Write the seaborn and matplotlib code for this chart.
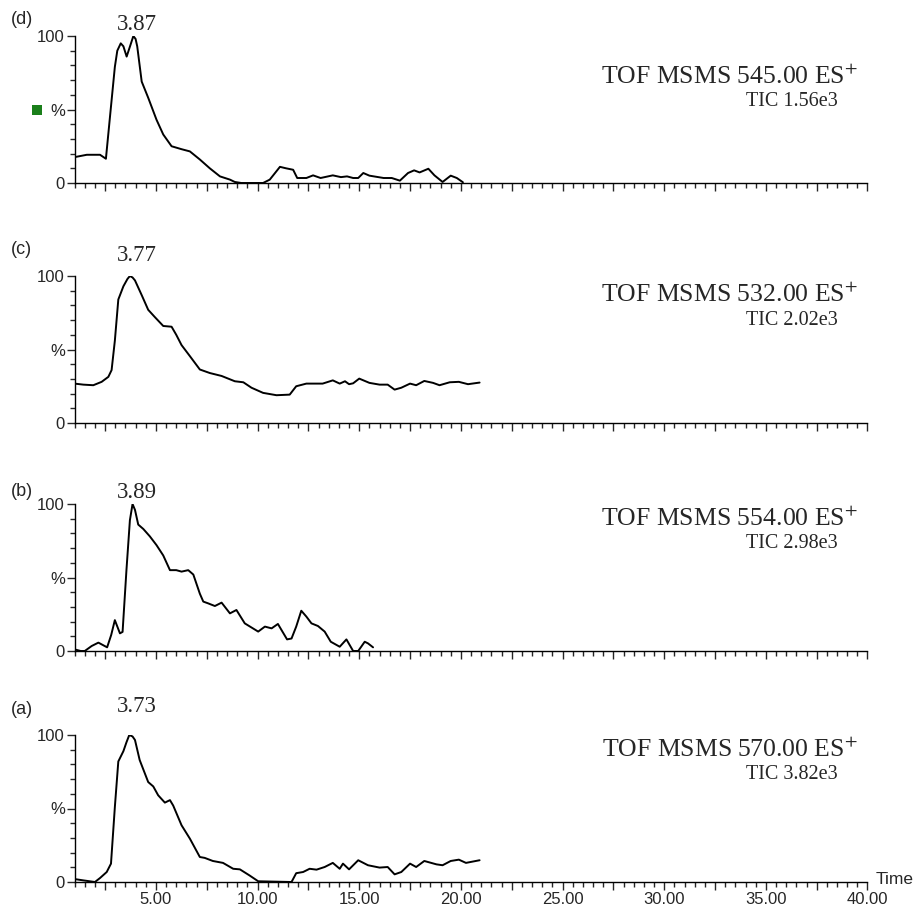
import matplotlib
matplotlib.use("Agg")
import matplotlib.pyplot as plt
import seaborn as sns
import pandas as pd
from matplotlib.ticker import MultipleLocator, FixedLocator, FuncFormatter
from matplotlib.patches import Rectangle

# ---------------- data ----------------
panel_labels = ["(d)", "(c)", "(b)", "(a)"]
peak_labels = ["3.87", "3.77", "3.89", "3.73"]
titles = ["TOF MSMS 545.00 ES$^{+}$", "TOF MSMS 532.00 ES$^{+}$",
          "TOF MSMS 554.00 ES$^{+}$", "TOF MSMS 570.00 ES$^{+}$"]
tics = ["TIC 1.56e3", "TIC 2.02e3", "TIC 2.98e3", "TIC 3.82e3"]

d_time = [1.0, 1.6, 2.25, 2.54, 2.74, 2.98, 3.1, 3.27, 3.4, 3.56, 3.75, 3.89, 4.0, 4.08, 4.3, 4.62, 5.03, 5.36,
          5.77, 6.26, 6.67, 7.16, 7.65, 8.15, 8.64, 8.88, 9.2, 10.27, 10.6, 11.1, 11.4, 11.75,
          11.95, 12.4, 12.73, 13.1, 13.7, 14.1, 14.4, 14.7, 14.95, 15.2, 15.5, 16.2, 16.6, 17.0,
          17.4, 17.7, 17.97, 18.4, 18.7, 19.1, 19.5, 19.8, 20.1]
d_int = [17.6, 19.2, 19.2, 16.5, 45, 79, 90, 95, 93, 86, 94, 100, 98, 93, 69, 58, 43, 33,
         25, 23, 21.5, 16, 10, 4.5, 2.3, 0.7, 0, 0, 2.3, 11, 10, 9,
         3.4, 3.4, 5.2, 3.4, 5.2, 4, 4.5, 3.4, 3.4, 6.8, 5, 3.4, 3.4, 1.6,
         6.8, 8.6, 7.2, 9.7, 5.2, 0.7, 5, 3.4, 0.5]

c_time = [1.0, 1.43, 1.92, 2.33, 2.66, 2.82, 2.98, 3.15, 3.4, 3.6, 3.72, 3.85, 3.97, 4.3, 4.62, 4.95,
          5.36, 5.77, 6.0, 6.26, 6.67, 7.16, 7.65, 8.23, 8.88, 9.3, 9.7, 10.27, 10.93, 11.58,
          11.9, 12.4, 13.2, 13.7, 14.04, 14.3, 14.5, 14.7, 15.0, 15.5, 16.0, 16.4, 16.74, 17.07,
          17.5, 17.8, 18.2, 18.63, 18.95, 19.45, 19.9, 20.35, 20.92]
c_int = [26.8, 26.1, 25.7, 28, 31.4, 36, 56, 84, 93, 98, 100, 99, 97, 87, 77, 72,
         66, 65.5, 60, 53, 45.5, 36.4, 34, 32, 28.4, 27.7, 24, 20.5, 18.9, 19.3,
         25, 26.8, 26.8, 29, 26.8, 28.4, 26.4, 27.0, 30.2, 27.3, 26.1, 26.1, 22.7, 24,
         26.8, 25.7, 28.6, 27.3, 25.7, 27.7, 28, 26.4, 27.5]

b_time = [1.0, 1.3, 1.5, 1.84, 2.17, 2.6, 2.8, 2.98, 3.23, 3.36, 3.55, 3.72, 3.85, 3.97,
          4.13, 4.38, 4.7, 5.03, 5.36, 5.69, 6.0, 6.26, 6.59, 6.84, 7.16, 7.33, 7.57, 7.9,
          8.23, 8.64, 8.96, 9.37, 10.03, 10.36, 10.69, 11.0, 11.45, 11.67, 11.9, 12.15, 12.4,
          12.65, 12.97, 13.3, 13.6, 14.04, 14.37, 14.7, 14.95, 15.27, 15.43, 15.68]
b_int = [1.1, 0, 0, 3.4, 5.7, 2.5, 10.9, 21, 12, 13, 55, 89, 100, 96,
         86, 83, 78, 72, 65, 55, 55, 54, 55, 52, 39, 33.6, 32.4, 30.6,
         32.9, 25.6, 27.9, 18.8, 13.2, 16.6, 15.4, 18.4, 7.9, 8.5, 16.6, 27.4, 23.4,
         18.8, 17, 13.2, 6.3, 2.9, 7.9, 0, 0, 6.3, 5.2, 2.5]

a_time = [1.0, 1.43, 2.0, 2.25, 2.58, 2.79, 2.98, 3.15, 3.4, 3.55, 3.69, 3.85, 3.97, 4.2, 4.62, 4.87,
          5.11, 5.44, 5.69, 5.85, 6.26, 6.67, 7.16, 7.4, 7.8, 8.3, 8.8, 9.13, 9.6, 10.03,
          11.67, 11.9, 12.24, 12.56, 12.9, 13.3, 13.7, 14.04, 14.2, 14.5, 14.95, 15.43, 16.0,
          16.4, 16.74, 17.07, 17.5, 17.8, 18.2, 18.8, 19.1, 19.5, 19.9, 20.25, 20.92]
a_int = [2, 1.1, 0, 2.7, 6.8, 12.5, 51, 82, 89, 95, 100, 99, 96.6, 83, 68, 65,
         59, 54, 55.7, 52, 38.6, 29.5, 17, 16.4, 14.3, 13, 9, 8.6, 4.5, 0.5,
         0, 6, 6.8, 9, 8.4, 10.2, 13, 9, 12.5, 8.6, 14.8, 11.4, 9.8,
         10.2, 5.2, 6.8, 12.5, 10.2, 14.3, 12, 11.4, 14.3, 15.2, 13, 14.8]

series = [(d_time, d_int), (c_time, c_int), (b_time, b_int), (a_time, a_int)]

x_min, x_max = 1.0, 40.0

# ---------------- style ----------------
sns.set_style("ticks")
plt.rcParams["font.family"] = ["Liberation Sans", "DejaVu Sans"]
plt.rcParams["mathtext.fontset"] = "stix"

W, H = 916, 907
fig = plt.figure(figsize=(W / 100, H / 100), dpi=100)


def fx(px):
    return px / W


def fy(py):
    return 1 - py / H


# axes geometry in pixels: (zero line y, top y)
ax_left, ax_right = 74.6, 867.5
panel_px = [(183, 36), (423, 276), (651, 504), (882, 735)]
title_base = [84, 302, 526, 757]
tic_base = [106, 325, 548, 779]
label_y = [20, 249, 492, 709]
peak_y = [24, 255, 493, 707]

for i, ((t, v), (y0, y1)) in enumerate(zip(series, panel_px)):
    ax = fig.add_axes([fx(ax_left), fy(y0), (ax_right - ax_left) / W, (y0 - y1) / H])
    df = pd.DataFrame({"time": t, "intensity": v})
    sns.lineplot(data=df, x="time", y="intensity", ax=ax, color="black", lw=1.4,
                 estimator=None, sort=False)
    ax.set_xlim(x_min, x_max)
    ax.set_ylim(0, 100)
    ax.set_xlabel("")
    ax.set_ylabel("")
    for s in ["top", "right"]:
        ax.spines[s].set_visible(False)
    for s in ["left", "bottom"]:
        ax.spines[s].set_linewidth(1.0)
        ax.spines[s].set_color("black")
    ax.yaxis.set_major_locator(FixedLocator([0, 50, 100]))
    ax.set_yticklabels(["0", "%", "100"])
    ax.yaxis.set_minor_locator(MultipleLocator(10))
    ax.xaxis.set_major_locator(MultipleLocator(2.5))
    ax.xaxis.set_minor_locator(MultipleLocator(0.5))
    ax.tick_params(axis="y", which="major", length=6, width=1, labelsize=12, pad=1)
    ax.tick_params(axis="y", which="minor", length=3.5, width=1)
    ax.tick_params(axis="x", which="major", length=6, width=1, labelsize=12, pad=1)
    ax.tick_params(axis="x", which="minor", length=3.5, width=1)
    if i == 3:
        ax.xaxis.set_major_formatter(FuncFormatter(
            lambda val, pos: f"{val:.2f}" if abs(val / 5 - round(val / 5)) < 1e-6 and val > 0 else ""))
    else:
        ax.xaxis.set_major_formatter(FuncFormatter(lambda val, pos: ""))

    fig.text(fx(11), fy(label_y[i]), panel_labels[i], fontsize=13, va="center", ha="left")
    fig.text(fx(137), fy(peak_y[i]), peak_labels[i], fontsize=16.5, va="center", ha="center",
             family="Liberation Serif")
    fig.text(fx(858), fy(title_base[i]), titles[i], fontsize=18.5, va="baseline", ha="right",
             family="Liberation Serif")
    fig.text(fx(838), fy(tic_base[i]), tics[i], fontsize=14.5, va="baseline", ha="right",
             family="Liberation Serif")

# green marker square in panel (d)
fig.patches.append(Rectangle((fx(32), fy(115)), 10 / W, 10 / H, transform=fig.transFigure,
                             facecolor="#1a7f1a", edgecolor="none"))

fig.text(fx(876), fy(880), "Time", fontsize=12.5, va="center", ha="left")

fig.savefig("out.png", dpi=100)
